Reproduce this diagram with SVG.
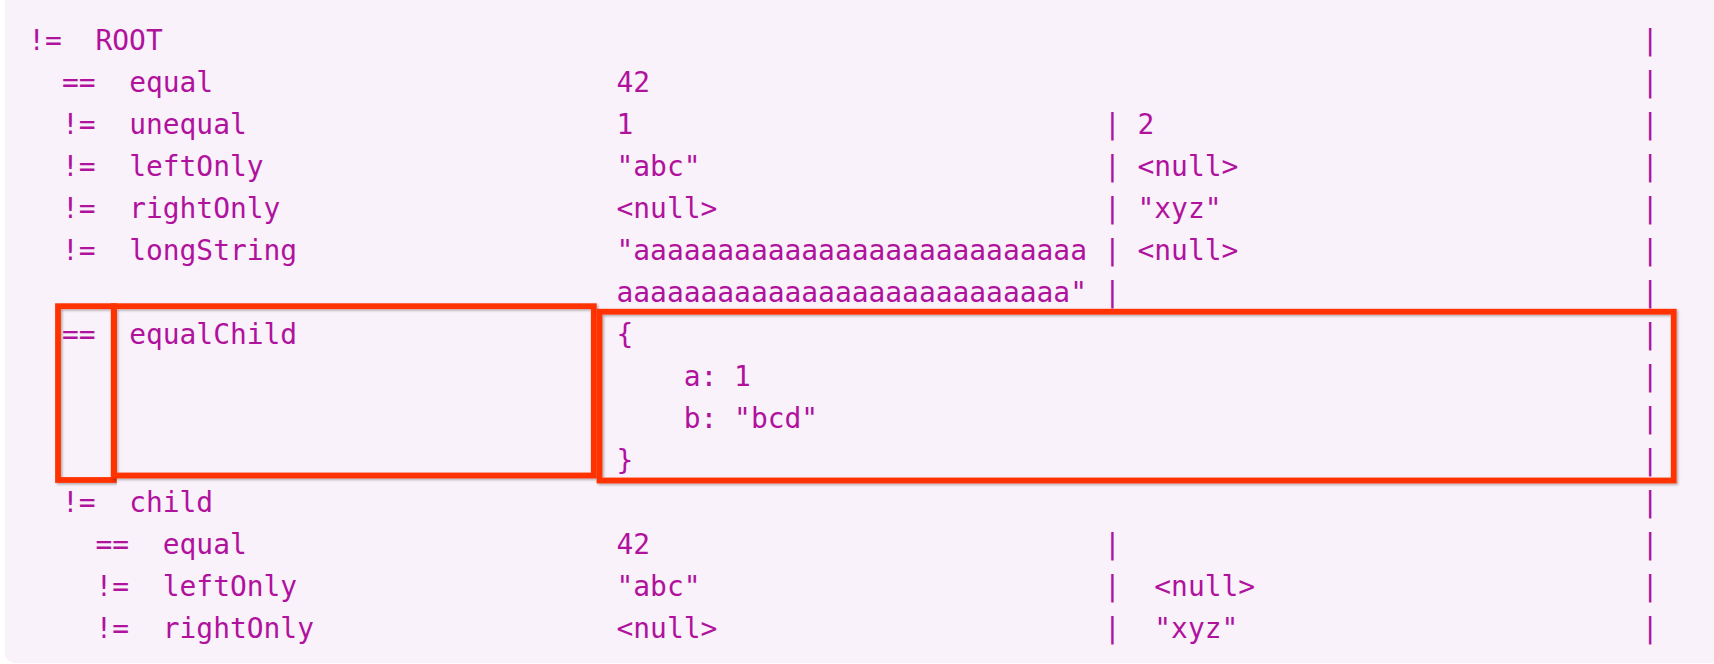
<svg xmlns="http://www.w3.org/2000/svg" width="1714" height="664" viewBox="0 0 1714 664">
  <defs>
    <style>
      .t { font-family: "DejaVu Sans Mono", "Liberation Mono", monospace; font-size: 27.92px; fill: #b0129e; white-space: pre; }
      .box { fill: none; stroke: #ff3300; stroke-width: 5.8; filter: url(#sh); }
    </style>
    <filter id="sh" x="-5%" y="-5%" width="110%" height="115%">
      <feDropShadow dx="1.5" dy="1.5" stdDeviation="1.2" flood-color="#000" flood-opacity="0.3"/>
    </filter>
  </defs>
  <rect x="0" y="0" width="1714" height="664" fill="#ffffff"/>
  <rect id="panel" x="5" y="-20" width="1729" height="683.3" rx="10" fill="#faf2fa"/>

  <g id="row1" class="t">
    <text x="28.3" y="50">!=</text><text x="95.52" y="50">ROOT</text><text x="1641.68" y="50">|</text>
  </g>
  <g id="row2" class="t">
    <text x="61.91" y="92">==</text><text x="129.14" y="92">equal</text><text x="616.51" y="92">42</text><text x="1641.68" y="92">|</text>
  </g>
  <g id="row3" class="t">
    <text x="61.91" y="134">!=</text><text x="129.14" y="134">unequal</text><text x="616.51" y="134">1</text><text x="1103.88" y="134">|</text><text x="1137.5" y="134">2</text><text x="1641.68" y="134">|</text>
  </g>
  <g id="row4" class="t">
    <text x="61.91" y="176">!=</text><text x="129.14" y="176">leftOnly</text><text x="616.51" y="176">"abc"</text><text x="1103.88" y="176">|</text><text x="1137.5" y="176">&lt;null&gt;</text><text x="1641.68" y="176">|</text>
  </g>
  <g id="row5" class="t">
    <text x="61.91" y="218">!=</text><text x="129.14" y="218">rightOnly</text><text x="616.51" y="218">&lt;null&gt;</text><text x="1103.88" y="218">|</text><text x="1137.5" y="218">"xyz"</text><text x="1641.68" y="218">|</text>
  </g>
  <g id="row6" class="t">
    <text x="61.91" y="260">!=</text><text x="129.14" y="260">longString</text><text x="616.51" y="260">"aaaaaaaaaaaaaaaaaaaaaaaaaaa</text><text x="1103.88" y="260">|</text><text x="1137.5" y="260">&lt;null&gt;</text><text x="1641.68" y="260">|</text>
  </g>
  <g id="row7" class="t">
    <text x="616.51" y="302">aaaaaaaaaaaaaaaaaaaaaaaaaaa"</text><text x="1103.88" y="302">|</text><text x="1641.68" y="302">|</text>
  </g>
  <g id="row8" class="t">
    <text x="61.91" y="344">==</text><text x="129.14" y="344">equalChild</text><text x="616.51" y="344">{</text><text x="1641.68" y="344">|</text>
  </g>
  <g id="row9" class="t">
    <text x="683.73" y="386">a: 1</text><text x="1641.68" y="386">|</text>
  </g>
  <g id="row10" class="t">
    <text x="683.73" y="428">b: "bcd"</text><text x="1641.68" y="428">|</text>
  </g>
  <g id="row11" class="t">
    <text x="616.51" y="470">}</text><text x="1641.68" y="470">|</text>
  </g>
  <g id="row12" class="t">
    <text x="61.91" y="512">!=</text><text x="129.14" y="512">child</text><text x="1641.68" y="512">|</text>
  </g>
  <g id="row13" class="t">
    <text x="95.52" y="554">==</text><text x="162.75" y="554">equal</text><text x="616.51" y="554">42</text><text x="1103.88" y="554">|</text><text x="1641.68" y="554">|</text>
  </g>
  <g id="row14" class="t">
    <text x="95.52" y="596">!=</text><text x="162.75" y="596">leftOnly</text><text x="616.51" y="596">"abc"</text><text x="1103.88" y="596">|</text><text x="1154.3" y="596">&lt;null&gt;</text><text x="1641.68" y="596">|</text>
  </g>
  <g id="row15" class="t">
    <text x="95.52" y="638">!=</text><text x="162.75" y="638">rightOnly</text><text x="616.51" y="638">&lt;null&gt;</text><text x="1103.88" y="638">|</text><text x="1154.3" y="638">"xyz"</text><text x="1641.68" y="638">|</text>
  </g>

  <g id="highlights">
    <rect id="box-op" class="box" x="58" y="306.2" width="55.8" height="173.8"/>
    <rect id="box-name" class="box" x="113.8" y="306.2" width="480" height="169.3"/>
    <rect id="box-value" class="box" x="599.5" y="311.7" width="1074.2" height="168.8"/>
  </g>
</svg>
